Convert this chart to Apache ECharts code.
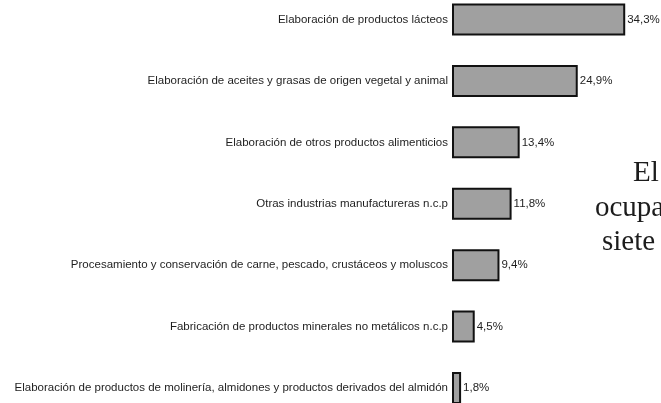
<!DOCTYPE html>
<html><head><meta charset="utf-8">
<script src="https://cdn.jsdelivr.net/npm/echarts@6/dist/echarts.min.js"></script>
<style>html,body{margin:0;padding:0;background:#fff}#c{width:661px;height:403px}</style>
</head><body><div id="c"></div>
<script>
var categories = [
  "Elaboración de productos lácteos",
  "Elaboración de aceites y grasas de origen vegetal y animal",
  "Elaboración de otros productos alimenticios",
  "Otras industrias manufactureras n.c.p",
  "Procesamiento y conservación de carne, pescado, crustáceos y moluscos",
  "Fabricación de productos minerales no metálicos n.c.p",
  "Elaboración de productos de molinería, almidones y productos derivados del almidón"
];
var values = [34.3, 24.9, 13.4, 11.8, 9.4, 4.5, 1.8];
var sideText = ["El", "ocupa", "siete"];

var chart = echarts.init(document.getElementById('c'));
chart.setOption({
  backgroundColor: '#ffffff',
  animation: false,
  grid: { left: 452, width: 202, top: 19.5, height: 368.5, containLabel: false },
  xAxis: { type: 'value', min: 0, max: 40, show: false },
  yAxis: {
    type: 'category', data: categories, inverse: true, boundaryGap: false,
    axisLine: { show: false }, axisTick: { show: false }, splitLine: { show: false },
    axisLabel: { fontFamily: 'Liberation Sans', fontSize: 11.5, color: '#1e1e1e', margin: 4 }
  },
  series: [{
    type: 'bar', data: values, barWidth: 32, clip: false,
    itemStyle: { color: '#a0a0a0', borderColor: '#111', borderWidth: 2 },
    label: {
      show: true, position: 'right', distance: 2,
      fontFamily: 'Liberation Sans', fontSize: 11.5, color: '#1e1e1e',
      formatter: function (p) { return String(p.value).replace('.', ',') + '%'; }
    }
  }],
  graphic: [
    { type: 'text', x: 633, y: 173, style: { text: sideText[0], font: '29px "Liberation Serif"', fill: '#1c1c1c', verticalAlign: 'middle' } },
    { type: 'text', x: 595, y: 208, style: { text: sideText[1], font: '29px "Liberation Serif"', fill: '#1c1c1c', verticalAlign: 'middle' } },
    { type: 'text', x: 602, y: 242, style: { text: sideText[2], font: '29px "Liberation Serif"', fill: '#1c1c1c', verticalAlign: 'middle' } }
  ]
});
</script></body></html>
